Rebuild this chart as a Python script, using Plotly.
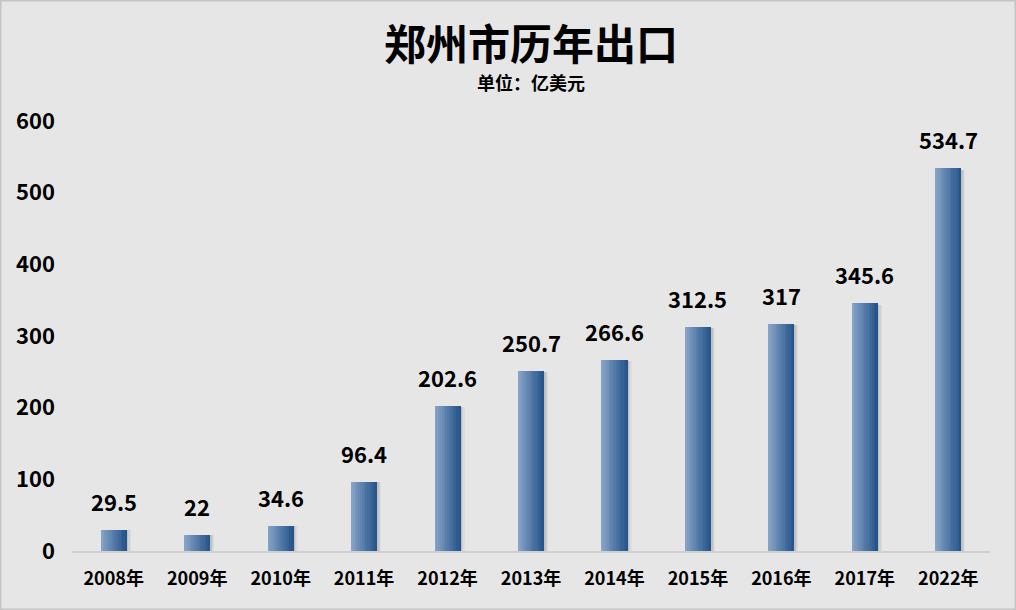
import plotly.graph_objects as go

categories = ["2008年", "2009年", "2010年", "2011年", "2012年", "2013年",
              "2014年", "2015年", "2016年", "2017年", "2022年"]
values = [29.5, 22, 34.6, 96.4, 202.6, 250.7, 266.6, 312.5, 317, 345.6, 534.7]
labels = ["29.5", "22", "34.6", "96.4", "202.6", "250.7", "266.6", "312.5", "317", "345.6", "534.7"]
y_ticks = [0, 100, 200, 300, 400, 500, 600]

FONT = "Noto Sans CJK SC"
BG = "#e6e6e6"
BAR_W = 0.31
N_STRIPS = 14
c_left = (0x86, 0xA3, 0xC6)
c_right = (0x26, 0x55, 0x8C)

fig = go.Figure()

# shadow
for k, (dx, a) in enumerate([(0.02, 0.10), (0.035, 0.08), (0.05, 0.05)]):
    fig.add_trace(go.Bar(
        x=categories, y=[v * 0.995 for v in values],
        width=BAR_W, offset=-BAR_W / 2 + dx,
        marker=dict(color=f"rgba(60,60,60,{a})", line=dict(width=0)),
        hoverinfo="skip", showlegend=False))

# gradient strips
sw = BAR_W / N_STRIPS
for i in range(N_STRIPS):
    t = i / (N_STRIPS - 1)
    col = tuple(round(c_left[j] + (c_right[j] - c_left[j]) * t) for j in range(3))
    fig.add_trace(go.Bar(
        x=categories, y=values,
        width=sw * 1.08, offset=-BAR_W / 2 + i * sw,
        marker=dict(color=f"rgb{col}", line=dict(width=0)),
        hoverinfo="skip", showlegend=False))

for c, v, lab in zip(categories, values, labels):
    fig.add_annotation(x=c, y=v, text=lab, showarrow=False,
                       yanchor="bottom", yshift=11,
                       font=dict(family=FONT, size=22, color="#000000", weight="bold"))

fig.add_annotation(xref="paper", yref="paper", x=0.5, y=1, yshift=80,
                   text="郑州市历年出口", showarrow=False, yanchor="middle",
                   font=dict(family=FONT, size=42, color="#000000", weight="bold"))
fig.add_annotation(xref="paper", yref="paper", x=0.5, y=1, yshift=39,
                   text="单位：亿美元", showarrow=False, yanchor="middle",
                   font=dict(family=FONT, size=18, color="#000000", weight="bold"))

fig.update_layout(
    width=1016, height=610,
    margin=dict(l=72, r=26, t=121, b=59),
    paper_bgcolor=BG, plot_bgcolor=BG,
    barmode="overlay", bargap=0,
    showlegend=False,
    xaxis=dict(type="category", showgrid=False, showline=True, linecolor="#d0d0d0",
               linewidth=2, ticks="",
               tickfont=dict(family=FONT, size=18, color="#000000", weight="bold"),
               ticklabelstandoff=10, fixedrange=True),
    yaxis=dict(range=[0, 600], tickvals=y_ticks, showgrid=False, zeroline=False,
               showline=False, ticks="", ticklabelstandoff=16,
               tickfont=dict(family=FONT, size=22, color="#000000", weight="bold"),
               fixedrange=True),
    shapes=[dict(type="rect", xref="paper", yref="paper", x0=-72/918, x1=1+26/918,
                 y0=-59/430, y1=1+121/430, line=dict(color="#c4c4c4", width=3),
                 fillcolor="rgba(0,0,0,0)", layer="above")],
)

fig.write_html("out.html", config={"displayModeBar": False},
               post_script="document.body.style.margin='0';")
